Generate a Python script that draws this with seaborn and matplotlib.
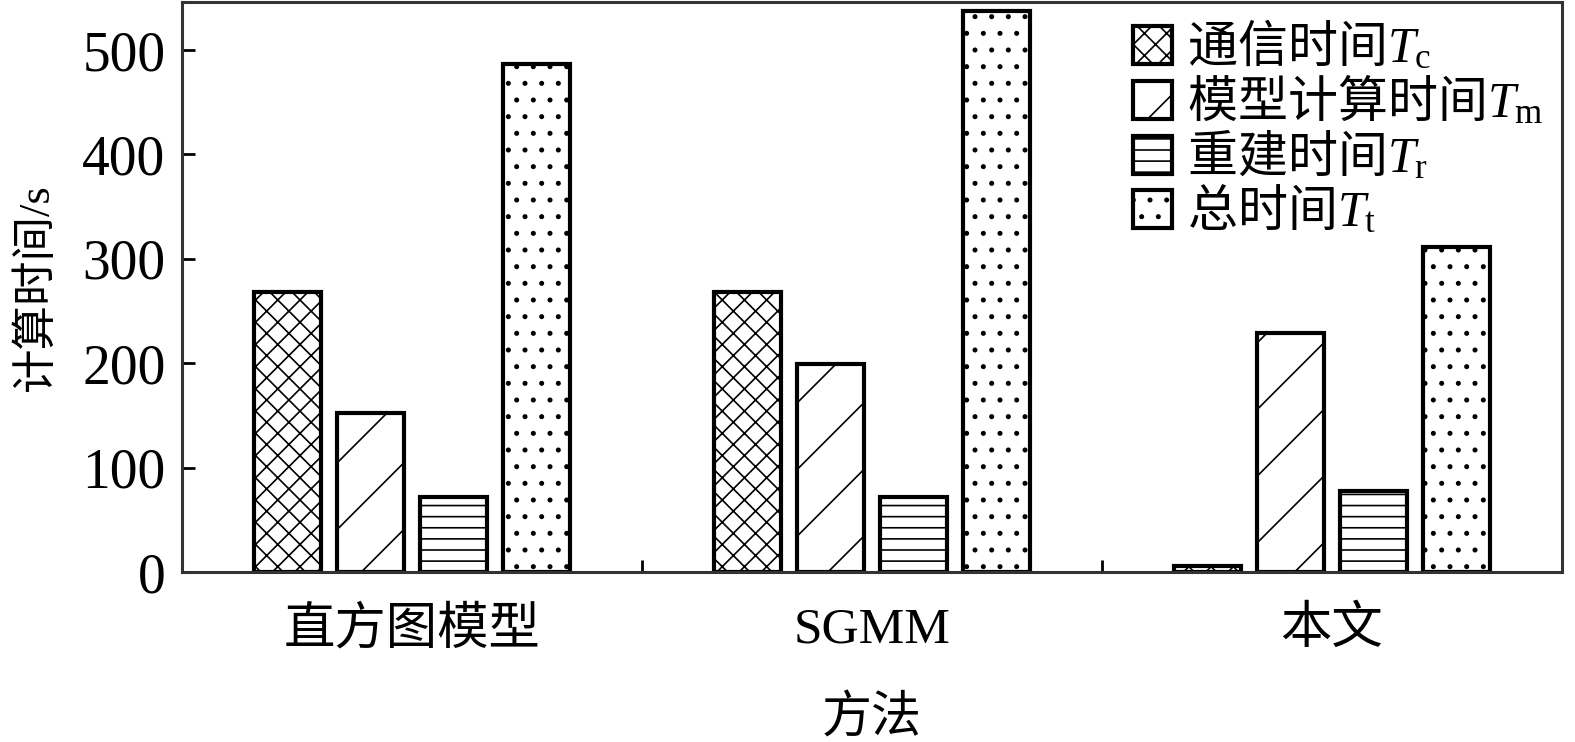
import matplotlib
matplotlib.use('Agg')
import matplotlib.pyplot as plt
import seaborn as sns
import pandas as pd

# data
methods = ['直方图模型', 'SGMM', '本文']
components = ['通信时间$T_\\mathrm{c}$', '模型计算时间$T_\\mathrm{m}$',
              '重建时间$T_\\mathrm{r}$', '总时间$T_\\mathrm{t}$']
t_comm = [268, 268, 6]
t_model = [152, 199, 229]
t_rebuild = [72, 72, 78]
t_total = [487, 537, 311]
hatches = ['xxx', '/', '---', '..']

rows = []
for comp, vals in zip(components, [t_comm, t_model, t_rebuild, t_total]):
    for m, v in zip(methods, vals):
        rows.append({'method': m, 'component': comp, 'time': v})
df = pd.DataFrame(rows)

sns.set_style('ticks')
plt.rcParams['font.family'] = ['Liberation Serif', 'Noto Sans CJK SC']
plt.rcParams['mathtext.fontset'] = 'custom'
plt.rcParams['mathtext.rm'] = 'Liberation Serif'
plt.rcParams['mathtext.it'] = 'Liberation Serif:italic'
plt.rcParams['hatch.linewidth'] = 0.6
plt.rcParams['hatch.color'] = 'black'
plt.rcParams['text.color'] = 'black'
plt.rcParams['axes.labelcolor'] = 'black'
plt.rcParams['xtick.color'] = 'black'
plt.rcParams['ytick.color'] = 'black'

dpi = 200
fig = plt.figure(figsize=(1575 / dpi, 742 / dpi), dpi=dpi)
ax = fig.add_axes([0.1156, 0.2291, 0.8761, 0.7682])

sns.barplot(data=df, x='method', y='time', hue='component',
            palette=['white'] * 4, saturation=1, width=0.72, gap=0.19,
            edgecolor='black', linewidth=1.5, ax=ax, legend=False)

for cont, h in zip(ax.containers, hatches):
    for bar in cont:
        bar.set_hatch(h)

ax.set_xlim(-0.5, 2.5)
ax.set_ylim(0, 546)
ax.set_yticks([0, 100, 200, 300, 400, 500])
ax.set_xticks([0, 1, 2])
ax.set_xticks([0.5, 1.5], minor=True)
ax.tick_params(axis='x', which='major', length=0, labelsize=18.5, pad=12.5)
ax.tick_params(axis='x', which='minor', direction='in', length=4.5, width=1.0)
ax.tick_params(axis='y', direction='in', length=4.5, width=1.0, labelsize=20, pad=6)
for s in ax.spines.values():
    s.set_linewidth(1.1)
    s.set_color('#333333')
    s.set_visible(True)

ax.set_xlabel('方法', fontsize=18, labelpad=15)
ax.set_ylabel('计算时间/s', fontsize=16, labelpad=9)

leg = ax.legend(handles=[c[0] for c in ax.containers], labels=components,
                loc='upper right', frameon=False,
                prop={'family': 'Noto Sans CJK SC', 'size': 18},
                handlelength=0.78, handleheight=0.8, handletextpad=0.3,
                labelspacing=0.02, borderaxespad=0.1,
                bbox_to_anchor=(1.005, 1.01))

fig.savefig('out.png', dpi=dpi)
